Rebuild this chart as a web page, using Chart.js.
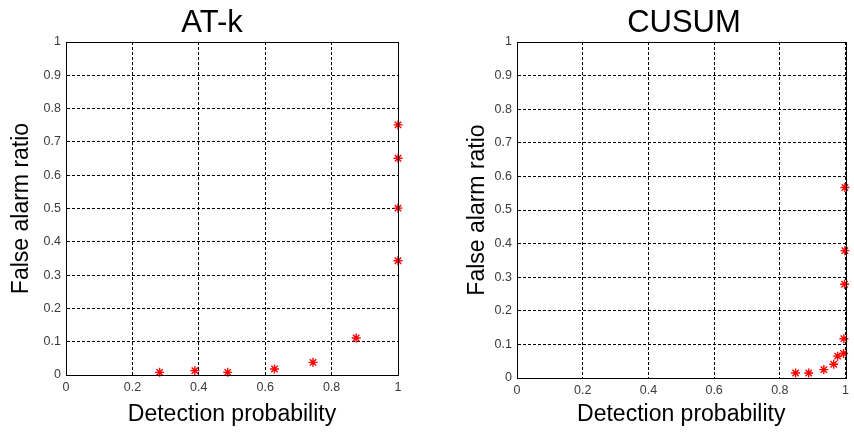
<!DOCTYPE html>
<html>
<head>
<meta charset="utf-8">
<script src="https://cdn.jsdelivr.net/npm/chart.js@4/dist/chart.umd.min.js"></script>
<style>
  html, body { margin: 0; padding: 0; background: #fff; }
  #wrap { position: relative; width: 854px; height: 435px; overflow: hidden; }
  canvas { position: absolute; top: 0; }
  #c1 { left: 0; }
  #c2 { left: 427px; }
</style>
</head>
<body>
<div id="wrap">
  <canvas id="c1" width="427" height="435"></canvas>
  <canvas id="c2" width="427" height="435"></canvas>
</div>
<script>
// ---- data ----
const panelTitles = ["AT-k", "CUSUM"];
const xAxisLabel = "Detection probability";
const yAxisLabel = "False alarm ratio";
const xTicks = [0, 0.2, 0.4, 0.6, 0.8, 1];
const yTicks = [0, 0.1, 0.2, 0.3, 0.4, 0.5, 0.6, 0.7, 0.8, 0.9, 1];

const atkDetection = [0.282, 0.388, 0.487, 0.628, 0.744, 0.874, 1.0, 1.0, 1.0, 1.0];
const atkFalseAlarm = [0.008, 0.013, 0.008, 0.018, 0.038, 0.111, 0.343, 0.501, 0.651, 0.751];

const cusumDetection = [0.848, 0.888, 0.934, 0.964, 0.976, 0.994, 0.995, 0.997, 0.998, 0.998];
const cusumFalseAlarm = [0.015, 0.015, 0.025, 0.041, 0.065, 0.073, 0.117, 0.279, 0.379, 0.567];

// ---- helpers ----
const tickFont = { family: "'Liberation Sans', Arial, sans-serif", size: 12.5 };
const labelFont = { family: "'Liberation Sans', Arial, sans-serif", size: 23, lineHeight: 1 };
const titleFont = "31px 'Liberation Sans', Arial, sans-serif";

const framePlugin = {
  id: 'frame',
  afterDatasetsDraw(chart, args, opts) {
    const { ctx, chartArea: a } = chart;
    ctx.save();
    ctx.strokeStyle = '#000';
    ctx.lineWidth = 1;
    ctx.strokeRect(Math.round(a.left) + 0.5, Math.round(a.top) + 0.5,
                   Math.round(a.right - a.left), Math.round(a.bottom - a.top));
    ctx.restore();
  },
  afterDraw(chart, args, opts) {
    const { ctx } = chart;
    ctx.save();
    ctx.fillStyle = '#000';
    ctx.font = titleFont;
    ctx.textAlign = 'center';
    ctx.textBaseline = 'alphabetic';
    ctx.fillText(opts.text, opts.x, opts.y);
    ctx.restore();
  }
};

function makeChart(id, title, xs, ys, cfg) {
  const pts = xs.map((x, i) => ({ x: x, y: ys[i] }));
  return new Chart(document.getElementById(id), {
    type: 'scatter',
    data: {
      datasets: [{
        data: pts,
        pointStyle: 'star',
        pointRadius: 4.5,
        borderColor: '#ff0000',
        backgroundColor: '#ff0000',
        pointBorderWidth: 1.4,
        clip: false
      }]
    },
    plugins: [framePlugin],
    options: {
      responsive: false,
      animation: false,
      devicePixelRatio: 1,
      layout: { padding: { left: 0, top: 42, right: cfg.rightPad, bottom: 0 } },
      plugins: {
        legend: { display: false },
        tooltip: { enabled: false },
        frame: { text: title, x: cfg.titleX, y: 32 }
      },
      scales: {
        x: {
          type: 'linear',
          min: 0, max: 1,
          afterBuildTicks: s => { s.ticks = xTicks.map(v => ({ value: v })); },
          afterFit: s => { s.height = cfg.xHeight; },
          ticks: {
            color: '#3a3a3a',
            font: tickFont,
            padding: 5,
            maxRotation: 0,
            callback: v => String(v)
          },
          grid: {
            color: '#000',
            lineWidth: 1,
            drawTicks: false,
            tickLength: 0
          },
          border: { display: true, color: '#000', dash: [3, 2] },
          title: {
            display: true,
            text: xAxisLabel,
            color: '#000',
            font: labelFont,
            padding: { top: 0, bottom: 8.5 }
          }
        },
        y: {
          type: 'linear',
          min: 0, max: 1,
          afterBuildTicks: s => { s.ticks = yTicks.map(v => ({ value: v })); },
          afterFit: s => { s.width = cfg.yWidth; },
          ticks: {
            color: '#3a3a3a',
            font: tickFont,
            padding: 5,
            callback: v => String(v)
          },
          grid: {
            color: '#000',
            lineWidth: 1,
            drawTicks: false,
            tickLength: 0
          },
          border: { display: true, color: '#000', dash: [3, 2] },
          title: {
            display: true,
            text: yAxisLabel,
            color: '#000',
            font: labelFont,
            padding: { top: cfg.yTitlePad, bottom: 0 }
          }
        }
      }
    }
  });
}

makeChart('c1', panelTitles[0], atkDetection, atkFalseAlarm,
  { rightPad: 29, xHeight: 60, yWidth: 66, yTitlePad: 10.5, titleX: 212 });
makeChart('c2', panelTitles[1], cusumDetection, cusumFalseAlarm,
  { rightPad: 1, xHeight: 57, yWidth: 90, yTitlePad: 39.5, titleX: 257 });
</script>
</body>
</html>
